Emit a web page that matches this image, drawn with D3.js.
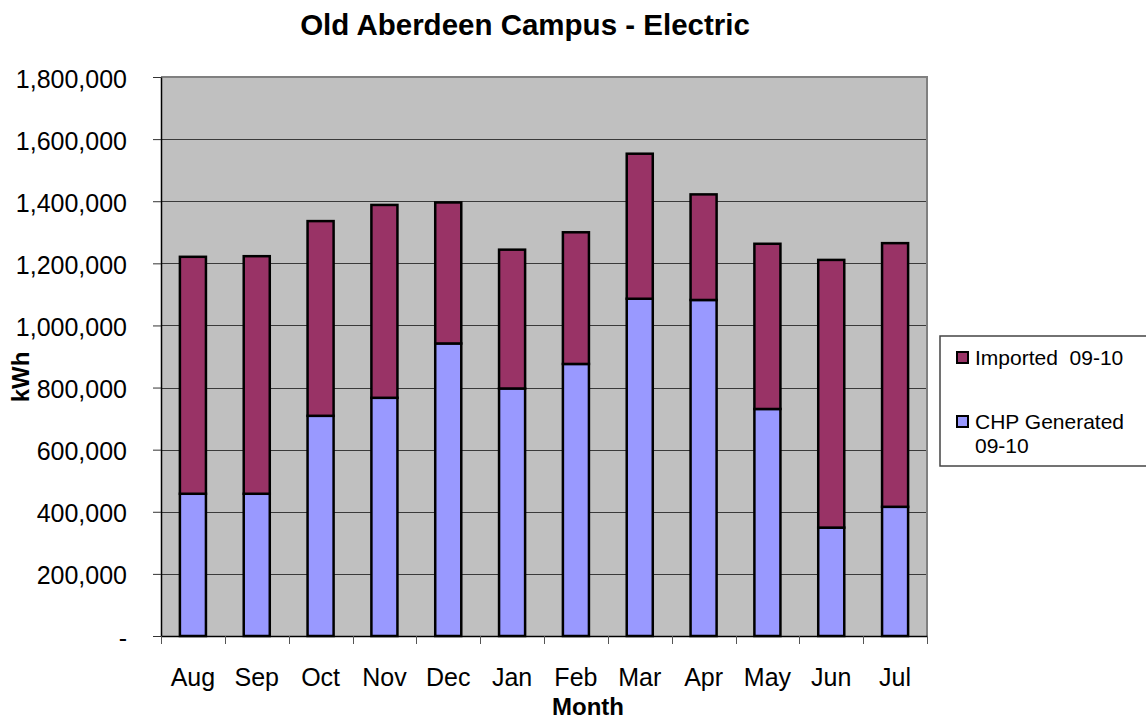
<!DOCTYPE html>
<html>
<head>
<meta charset="utf-8">
<script src="https://cdn.jsdelivr.net/npm/d3@7"></script>
<style>
  body { margin: 0; background: #fff; }
  text { font-family: "Liberation Sans", Arial, sans-serif; fill: #000; }
</style>
</head>
<body>
<svg id="chart" width="1146" height="720"></svg>
<script>
// Values (kWh per month, 09-10)
var months = ['Aug', 'Sep', 'Oct', 'Nov', 'Dec', 'Jan', 'Feb', 'Mar', 'Apr', 'May', 'Jun', 'Jul'];
var chpGenerated = [458000, 458000, 709000, 767000, 942000, 797000, 876000, 1086000, 1082000, 731000, 349000, 416000];
var imported = [763000, 765000, 627000, 621000, 454000, 447000, 424000, 467000, 340000, 532000, 862000, 849000];
var yTicks = [0, 200000, 400000, 600000, 800000, 1000000, 1200000, 1400000, 1600000, 1800000];
var seriesNames = ['CHP Generated 09-10', 'Imported 09-10'];
var seriesColors = ['#9999ff', '#993366'];

/**
 * Draws the stacked bar chart into the svg element.
 */
function StackedChart(svg) {
  this.svg_ = svg;
  this.plot_ = { left: 161, right: 927, top: 77, bottom: 636 };

  var rows = months.map(function(m, i) {
    return { month: m, chp: chpGenerated[i], imported: imported[i] };
  });

  this.x_ = d3.scaleBand()
      .domain(months)
      .range([this.plot_.left, this.plot_.right])
      .paddingInner(0.592)
      .paddingOuter(0.296);

  this.y_ = d3.scaleLinear()
      .domain([0, 1800000])
      .range([this.plot_.bottom, this.plot_.top]);

  this.renderBackground();
  this.renderBars(rows);
  this.renderAxes();
  this.renderTitles();
  this.renderLegend();
}

StackedChart.prototype.renderBackground = function() {
  var p = this.plot_;
  var y = this.y_;

  this.svg_.append('rect')
      .attr('x', p.left)
      .attr('y', p.top)
      .attr('width', p.right - p.left)
      .attr('height', p.bottom - p.top)
      .attr('fill', '#c0c0c0');

  // horizontal gridlines
  this.svg_.append('g')
      .selectAll('line')
      .data(yTicks.filter(function(d) { return d > 0 && d < 1800000; }))
      .enter().append('line')
      .attr('x1', p.left)
      .attr('x2', p.right)
      .attr('y1', function(d) { return Math.round(y(d)) + 0.5; })
      .attr('y2', function(d) { return Math.round(y(d)) + 0.5; })
      .attr('stroke', '#3a3a3a')
      .attr('stroke-width', 1);

  // grey frame on top and right
  this.svg_.append('path')
      .attr('d', 'M' + p.left + ',' + p.top + 'H' + p.right + 'V' + p.bottom)
      .attr('fill', 'none')
      .attr('stroke', '#808080')
      .attr('stroke-width', 2);
};

StackedChart.prototype.renderBars = function(rows) {
  var x = this.x_;
  var y = this.y_;

  var stacked = d3.stack().keys(['chp', 'imported'])(rows);

  this.svg_.append('g')
      .selectAll('g')
      .data(stacked)
      .enter().append('g')
      .attr('fill', function(d, i) { return seriesColors[i]; })
      .selectAll('rect')
      .data(function(d) { return d; })
      .enter().append('rect')
      .attr('x', function(d) { return x(d.data.month); })
      .attr('y', function(d) { return y(d[1]); })
      .attr('width', x.bandwidth())
      .attr('height', function(d) { return y(d[0]) - y(d[1]); })
      .attr('stroke', '#000')
      .attr('stroke-width', 2.5);
};

StackedChart.prototype.renderAxes = function() {
  var p = this.plot_;
  var x = this.x_;
  var y = this.y_;
  var fmt = d3.format(',');

  var yAxis = this.svg_.append('g')
      .attr('transform', 'translate(' + p.left + ',0)')
      .call(d3.axisLeft(y)
          .tickValues(yTicks)
          .tickFormat(function(d) { return d === 0 ? '-' : fmt(d); })
          .tickSizeInner(8)
          .tickSizeOuter(0)
          .tickPadding(26));

  yAxis.select('.domain').attr('stroke', '#000').attr('stroke-width', 1.5);
  yAxis.selectAll('.tick line').attr('stroke', '#333');
  yAxis.selectAll('.tick text')
      .attr('font-size', 25)
      .attr('font-family', '"Liberation Sans", Arial, sans-serif')
      .attr('dy', '0.4em');

  var xAxis = this.svg_.append('g')
      .attr('transform', 'translate(0,' + p.bottom + ')')
      .call(d3.axisBottom(x).tickSize(0).tickPadding(32));

  xAxis.select('.domain').attr('stroke', '#000').attr('stroke-width', 1.5);
  xAxis.selectAll('.tick text')
      .attr('font-size', 25)
      .attr('font-family', '"Liberation Sans", Arial, sans-serif');

  // tick marks sit between the categories
  var bounds = months.map(function(m) {
    return x(m) + x.bandwidth() / 2 - x.step() / 2;
  });
  bounds.push(p.right);

  this.svg_.append('g')
      .selectAll('line')
      .data(bounds)
      .enter().append('line')
      .attr('x1', function(d) { return Math.round(d) + 0.5; })
      .attr('x2', function(d) { return Math.round(d) + 0.5; })
      .attr('y1', p.bottom)
      .attr('y2', p.bottom + 8)
      .attr('stroke', '#555');
};

StackedChart.prototype.renderTitles = function() {
  this.svg_.append('text')
      .attr('x', 525)
      .attr('y', 35)
      .attr('text-anchor', 'middle')
      .attr('font-size', 29.5)
      .attr('font-weight', 'bold')
      .text('Old Aberdeen Campus - Electric');

  this.svg_.append('text')
      .attr('x', 588)
      .attr('y', 715)
      .attr('text-anchor', 'middle')
      .attr('font-size', 24)
      .attr('font-weight', 'bold')
      .text('Month');

  this.svg_.append('text')
      .attr('transform', 'translate(28.5,377) rotate(-90)')
      .attr('text-anchor', 'middle')
      .attr('font-size', 24)
      .attr('font-weight', 'bold')
      .text('kWh');
};

StackedChart.prototype.renderLegend = function() {
  var legend = this.svg_.append('g');

  legend.append('rect')
      .attr('x', 940)
      .attr('y', 336)
      .attr('width', 220)
      .attr('height', 130)
      .attr('fill', '#fff')
      .attr('stroke', '#444')
      .attr('stroke-width', 1.5);

  // Imported first, as in the original legend
  var items = [
    { color: seriesColors[1], lines: ['Imported\u00a0 09-10'], y: 352 },
    { color: seriesColors[0], lines: ['CHP Generated', '09-10'], y: 416 }
  ];

  items.forEach(function(item) {
    legend.append('rect')
        .attr('x', 957)
        .attr('y', item.y)
        .attr('width', 11)
        .attr('height', 11)
        .attr('fill', item.color)
        .attr('stroke', '#000')
        .attr('stroke-width', 2);

    item.lines.forEach(function(line, i) {
      legend.append('text')
          .attr('x', 975)
          .attr('y', item.y + 12.5 + i * 24)
          .attr('font-size', 21)
          .text(line);
    });
  });
};

new StackedChart(d3.select('#chart'));
</script>
</body>
</html>
